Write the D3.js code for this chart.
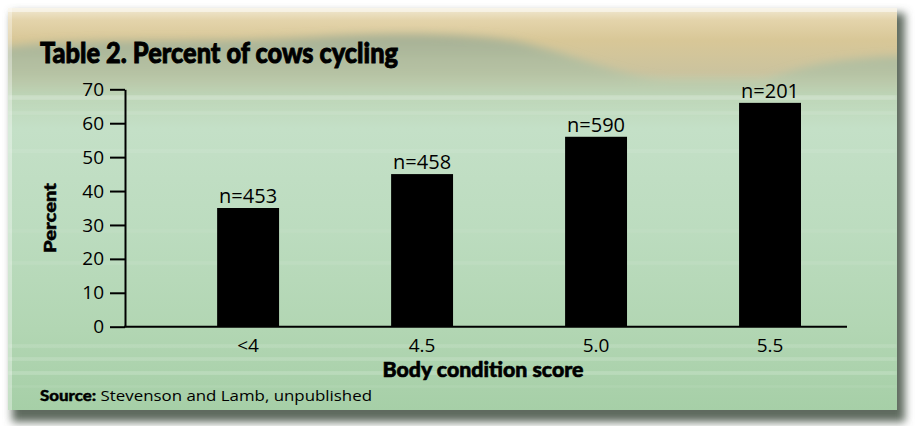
<!DOCTYPE html>
<html><head><meta charset="utf-8">
<script src="https://cdn.jsdelivr.net/npm/d3@7/dist/d3.min.js"></script>
<style>
html,body{margin:0;padding:0;background:#fff;}
svg{display:block;}
</style></head>
<body>
<svg id="chart" width="915" height="426"></svg>
<script>
const categories = ["<4", "4.5", "5.0", "5.5"];
const percentValues = [35, 45, 56, 66];
const sampleLabels = ["n=453", "n=458", "n=590", "n=201"];
const yTicks = [0, 10, 20, 30, 40, 50, 60, 70];
const titleText = "Table 2. Percent of cows cycling";
const xTitle = "Body condition score";
const yTitle = "Percent";
const sourceBold = "Source:";
const sourceText = " Stevenson and Lamb, unpublished";

const svg = d3.select("#chart");
const defs = svg.append("defs");

// background decoration
const bg = defs.append("linearGradient").attr("id","bg").attr("x1",0).attr("y1",0).attr("x2",0).attr("y2",1);
[[0,"#f1e9d3"],[0.03,"#e4d4ab"],[0.08,"#d8c797"],[0.16,"#cbc39e"],[0.22,"#bfd6b8"],[0.3,"#c4e0c7"],[0.55,"#bcdcbf"],[0.8,"#b2d6b3"],[1,"#a6cfa7"]]
  .forEach(([o,c])=>bg.append("stop").attr("offset",o).attr("stop-color",c));
const mt = defs.append("linearGradient").attr("id","mt").attr("x1",0).attr("y1",0).attr("x2",0).attr("y2",1);
[[0,"#98a994",0.8],[0.5,"#a9c1a6",0.65],[1,"#bcdcc0",0]].forEach(([o,c,a])=>mt.append("stop").attr("offset",o).attr("stop-color",c).attr("stop-opacity",a));
defs.append("filter").attr("id","blur").append("feGaussianBlur").attr("stdDeviation",4);
defs.append("filter").attr("id","blur2").append("feGaussianBlur").attr("stdDeviation",2);
const clip = defs.append("clipPath").attr("id","panelClip");
clip.append("rect").attr("x",8).attr("y",8).attr("width",889).attr("height",402);

svg.append("rect").attr("x",12).attr("y",13).attr("width",893).attr("height",409)
  .attr("fill","#5f6b5f").attr("filter","url(#blur)");
svg.append("rect").attr("x",8).attr("y",8).attr("width",889).attr("height",402).attr("fill","url(#bg)");
const deco = svg.append("g").attr("clip-path","url(#panelClip)");
deco.append("path")
  .attr("d","M0,48 C90,36 200,44 300,38 C390,32 470,33 520,42 C575,55 620,76 665,80 L765,80 C800,66 840,58 905,56 L905,110 L0,110 Z")
  .attr("fill","url(#mt)").attr("filter","url(#blur)");
[[96,3,0.45],[112,2,0.25],[150,2,0.2],[230,2,0.15],[262,2,0.2],[345,2,0.35],[358,2,0.45],[372,2,0.5],[386,1,0.3]].forEach(([y,h,a])=>{
  deco.append("rect").attr("x",8).attr("y",y).attr("width",889).attr("height",h)
    .attr("fill","#ffffff").attr("opacity",a).attr("filter","url(#blur2)");
});
// bevel edges
svg.append("rect").attr("x",8).attr("y",8).attr("width",889).attr("height",4).attr("fill","#fff").attr("opacity",0.5);
svg.append("rect").attr("x",8).attr("y",8).attr("width",4).attr("height",402).attr("fill","#fff").attr("opacity",0.35);

// chart
const y = d3.scaleLinear().domain([0,70]).range([326.7, 89.3]);
const x = d3.scaleBand().domain(categories).range([125, 847]).paddingInner(0.644).paddingOuter(0.397).align(0.667);

const font = "'Open Sans', 'DejaVu Sans', sans-serif";
const boldFont = "Lato, 'Open Sans', sans-serif";

const yAxis = svg.append("g").attr("transform","translate(125,0)")
  .call(d3.axisLeft(y).tickValues(yTicks).tickSize(15).tickPadding(6).tickSizeOuter(0));
yAxis.select(".domain").attr("stroke","#000").attr("stroke-width",2);
yAxis.selectAll(".tick line").attr("stroke","#000").attr("stroke-width",2);
yAxis.selectAll(".tick text").attr("font-family",font).attr("font-size",19).attr("fill","#000");

svg.append("line").attr("x1",124).attr("x2",847).attr("y1",y(0)).attr("y2",y(0))
  .attr("stroke","#000").attr("stroke-width",2);

svg.selectAll(".bar").data(percentValues).enter().append("rect")
  .attr("class","bar")
  .attr("x",(d,i)=>x(categories[i]))
  .attr("width",x.bandwidth())
  .attr("y",d=>y(d))
  .attr("height",d=>y(0)-y(d))
  .attr("fill","#000");

svg.selectAll(".nlab").data(percentValues).enter().append("text")
  .attr("x",(d,i)=>x(categories[i])+x.bandwidth()/2)
  .attr("y",d=>y(d)-5)
  .attr("text-anchor","middle")
  .attr("font-family",font).attr("font-size",20).attr("fill","#000")
  .text((d,i)=>sampleLabels[i]);

svg.selectAll(".xlab").data(categories).enter().append("text")
  .attr("x",d=>x(d)+x.bandwidth()/2)
  .attr("y",352)
  .attr("text-anchor","middle")
  .attr("font-family",font).attr("font-size",19).attr("fill","#000")
  .text(d=>d);

svg.append("text").attr("x",483).attr("y",377).attr("text-anchor","middle")
  .attr("font-family",boldFont).attr("font-weight",900).attr("font-size",21)
  .attr("stroke","#000").attr("stroke-width",0.6)
  .attr("textLength",201).attr("lengthAdjust","spacingAndGlyphs")
  .text(xTitle);

svg.append("text").attr("transform","translate(56,218) rotate(-90)").attr("text-anchor","middle")
  .attr("font-family",boldFont).attr("font-weight",900).attr("font-size",17)
  .attr("stroke","#000").attr("stroke-width",0.5)
  .attr("textLength",70).attr("lengthAdjust","spacingAndGlyphs")
  .text(yTitle);

svg.append("text").attr("x",40).attr("y",63)
  .attr("font-family",boldFont).attr("font-weight",900).attr("font-size",29)
  .attr("stroke","#000").attr("stroke-width",0.9)
  .attr("textLength",358).attr("lengthAdjust","spacingAndGlyphs")
  .text(titleText);

const src = svg.append("text").attr("x",40).attr("y",401)
  .attr("font-family",font).attr("font-size",15).attr("fill","#000")
  .attr("textLength",332).attr("lengthAdjust","spacingAndGlyphs");
src.append("tspan").attr("font-family",boldFont).attr("font-weight",900).attr("stroke","#000").attr("stroke-width",0.4).text(sourceBold);
src.append("tspan").text(sourceText);
</script>
</body></html>
